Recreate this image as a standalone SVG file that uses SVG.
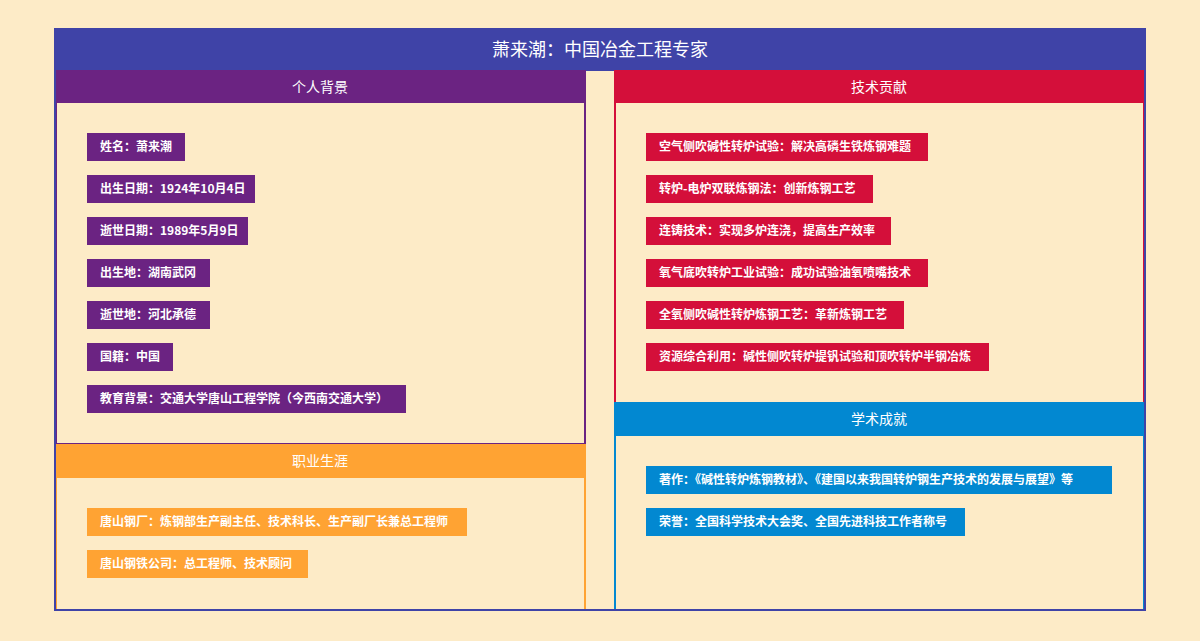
<svg xmlns="http://www.w3.org/2000/svg" width="1200" height="641" viewBox="0 0 1200 641">
<style>
text{font-family:"Noto Sans CJK SC","Noto Sans",sans-serif;fill:#fff}
.h{font-size:14px;text-anchor:middle}
.i{font-size:12px;font-weight:bold}
.panel{fill:none;stroke-width:2}
</style>
<rect width="1200" height="641" fill="#FDEBC7"/>
<g id="title">
<rect x="55" y="29" width="1090" height="42" fill="#3F43A7"/>
<text x="600" y="56" font-size="18" text-anchor="middle">萧来潮：中国冶金工程专家</text>
</g>
<g id="personal">
<rect x="56" y="71" width="529" height="373" class="panel" stroke="#6B2382"/>
<rect x="56" y="71" width="529" height="32" fill="#6B2382"/>
<text class="h" x="320" y="92">个人背景</text>
<g fill="#6B2382">
<rect x="87" y="133" width="98" height="28"/><rect x="87" y="175" width="168" height="28"/><rect x="87" y="217" width="161" height="28"/><rect x="87" y="259" width="123" height="28"/><rect x="87" y="301" width="123" height="28"/><rect x="87" y="343" width="86" height="28"/><rect x="87" y="385" width="319" height="28"/>
</g>
<text class="i" x="100" y="151">姓名：萧来潮</text>
<text class="i" x="100" y="193">出生日期：1924年10月4日</text>
<text class="i" x="100" y="235">逝世日期：1989年5月9日</text>
<text class="i" x="100" y="277">出生地：湖南武冈</text>
<text class="i" x="100" y="319">逝世地：河北承德</text>
<text class="i" x="100" y="361">国籍：中国</text>
<text class="i" x="100" y="403">教育背景：交通大学唐山工程学院（今西南交通大学）</text>
</g>
<g id="career">
<rect x="56" y="445" width="529" height="165" class="panel" stroke="#FFA333"/>
<rect x="56" y="445" width="529" height="33" fill="#FFA333"/>
<text class="h" x="320" y="466">职业生涯</text>
<g fill="#FFA333"><rect x="87" y="508" width="380" height="28"/><rect x="87" y="550" width="221" height="28"/></g>
<text class="i" x="100" y="526">唐山钢厂：炼钢部生产副主任、技术科长、生产副厂长兼总工程师</text>
<text class="i" x="100" y="568">唐山钢铁公司：总工程师、技术顾问</text>
</g>
<g id="tech">
<rect x="615" y="71" width="529" height="332" class="panel" stroke="#D40F3A"/>
<rect x="615" y="71" width="529" height="32" fill="#D40F3A"/>
<text class="h" x="879" y="92">技术贡献</text>
<g fill="#D40F3A">
<rect x="646" y="133" width="282" height="28"/><rect x="646" y="175" width="227" height="28"/><rect x="646" y="217" width="245" height="28"/><rect x="646" y="259" width="282" height="28"/><rect x="646" y="301" width="258" height="28"/><rect x="646" y="343" width="343" height="28"/>
</g>
<text class="i" x="659" y="151">空气侧吹碱性转炉试验：解决高磷生铁炼钢难题</text>
<text class="i" x="659" y="193">转炉-电炉双联炼钢法：创新炼钢工艺</text>
<text class="i" x="659" y="235">连铸技术：实现多炉连浇，提高生产效率</text>
<text class="i" x="659" y="277">氧气底吹转炉工业试验：成功试验油氧喷嘴技术</text>
<text class="i" x="659" y="319">全氧侧吹碱性转炉炼钢工艺：革新炼钢工艺</text>
<text class="i" x="659" y="361">资源综合利用：碱性侧吹转炉提钒试验和顶吹转炉半钢冶炼</text>
</g>
<g id="academic">
<rect x="615" y="403" width="529" height="207" class="panel" stroke="#0288D1"/>
<rect x="615" y="403" width="529" height="33" fill="#0288D1"/>
<text class="h" x="879" y="424">学术成就</text>
<g fill="#0288D1"><rect x="646" y="466" width="466" height="28"/><rect x="646" y="508" width="319" height="28"/></g>
<text class="i" x="659" y="484">著作：《碱性转炉炼钢教材》、《建国以来我国转炉钢生产技术的发展与展望》等</text>
<text class="i" x="659" y="526">荣誉：全国科学技术大会奖、全国先进科技工作者称号</text>
</g>
<rect x="55" y="29" width="1090" height="581" fill="none" stroke="#3F43A7" stroke-width="2"/>
<g id="connectors"/>
</svg>
